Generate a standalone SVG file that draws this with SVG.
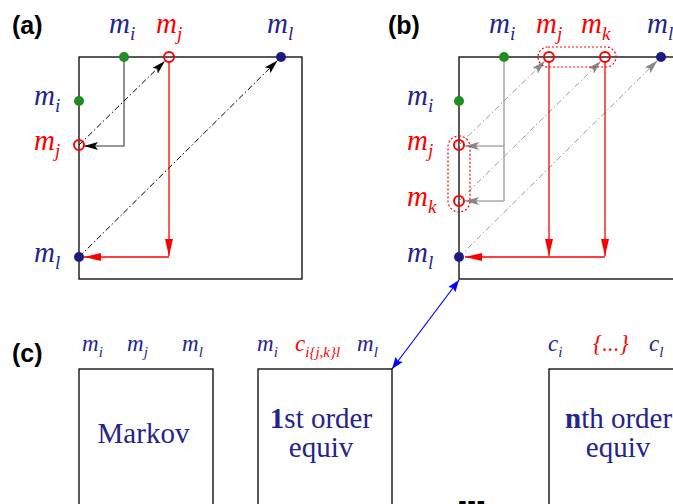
<svg xmlns="http://www.w3.org/2000/svg" width="673" height="504" viewBox="0 0 673 504">
<style>
.lbl{font-family:"Liberation Sans",Arial,sans-serif;font-weight:bold;font-size:25px;fill:#000}
.m{font-family:"Liberation Serif","Times New Roman",serif;font-style:italic;font-size:29px}
.ms{font-family:"Liberation Serif","Times New Roman",serif;font-style:italic;font-size:23px}
.blue{fill:#24248c}
.red{fill:#ff0000}
.box{fill:#fff;stroke:#000;stroke-width:1.3}
.big{font-family:"Liberation Serif","Times New Roman",serif;font-size:29px;fill:#24248c}
.gdot{fill:#228b22}
.bdot{fill:#1c1c80}
.rc{fill:none;stroke:#ff0000;stroke-width:2}
.dd{fill:none;stroke:#000;stroke-width:1;stroke-dasharray:6 2.5 1.5 2.5}
.gd{fill:none;stroke:#999;stroke-width:1;stroke-dasharray:6 2.5 1.5 2.5}
.rl{fill:none;stroke:#ff0000;stroke-width:1.3}
.gl{fill:none;stroke:#777;stroke-width:1.6}
.gl2{fill:none;stroke:#aaa;stroke-width:1.6}
.rdot{fill:none;stroke:#ff0000;stroke-width:1.2;stroke-dasharray:2 2}
</style>
<defs>
<marker id="aBlk" markerUnits="userSpaceOnUse" markerWidth="16" markerHeight="10" refX="14" refY="4" orient="auto"><path d="M0,0 L14,4 L0,8 L3,4 z" fill="#000"/></marker>
<marker id="aGry" markerUnits="userSpaceOnUse" markerWidth="16" markerHeight="10" refX="14" refY="4" orient="auto"><path d="M0,0 L14,4 L0,8 L3,4 z" fill="#888"/></marker>
<marker id="aRed" markerUnits="userSpaceOnUse" markerWidth="19" markerHeight="10" refX="17" refY="4" orient="auto"><path d="M0,0 L17,4 L0,8 z" fill="#ff0000"/></marker>
<marker id="aBlu" markerUnits="userSpaceOnUse" markerWidth="14" markerHeight="11" refX="12" refY="4.5" orient="auto"><path d="M0,0 L12,4.5 L0,9 L2,4.5 z" fill="#0000ff"/></marker>
<marker id="aBluS" markerUnits="userSpaceOnUse" markerWidth="14" markerHeight="11" refX="0" refY="4.5" orient="auto"><path d="M12,0 L0,4.5 L12,9 L10,4.5 z" fill="#0000ff"/></marker>
</defs>

<g id="panel-a">
<text class="lbl" x="12" y="34">(a)</text>
<rect class="box" x="79" y="57" width="223" height="222"/>
<text class="m blue" x="109" y="33">m<tspan font-size="19" dy="7">i</tspan></text>
<text class="m red" x="156" y="33">m<tspan font-size="19" dy="7">j</tspan></text>
<text class="m blue" x="267" y="33">m<tspan font-size="19" dy="7">l</tspan></text>
<text class="m blue" x="34" y="105">m<tspan font-size="19" dy="7">i</tspan></text>
<text class="m red" x="34" y="150">m<tspan font-size="19" dy="7">j</tspan></text>
<text class="m blue" x="34" y="262">m<tspan font-size="19" dy="7">l</tspan></text>
</g>

<g id="panel-b">
<text class="lbl" x="388" y="34">(b)</text>
<rect class="box" x="459" y="57" width="240" height="222"/>
<text class="m blue" x="489" y="33">m<tspan font-size="19" dy="7">i</tspan></text>
<text class="m red" x="536" y="33">m<tspan font-size="19" dy="7">j</tspan></text>
<text class="m red" x="581" y="33">m<tspan font-size="19" dy="7">k</tspan></text>
<text class="m blue" x="647" y="33">m<tspan font-size="19" dy="7">l</tspan></text>
<text class="m blue" x="407" y="105">m<tspan font-size="19" dy="7">i</tspan></text>
<text class="m red" x="407" y="150">m<tspan font-size="19" dy="7">j</tspan></text>
<text class="m red" x="407" y="206">m<tspan font-size="19" dy="7">k</tspan></text>
<text class="m blue" x="407" y="262">m<tspan font-size="19" dy="7">l</tspan></text>
</g>

<g id="connectors">
<polyline class="gl" points="124,57 124,146 84,146" marker-end="url(#aBlk)"/>
<line class="dd" x1="79" y1="145" x2="165" y2="61" marker-end="url(#aBlk)"/>
<line class="dd" x1="79" y1="257" x2="277.5" y2="60.5" marker-end="url(#aBlk)"/>
<line class="rl" x1="169" y1="62" x2="169" y2="256" marker-end="url(#aRed)"/>
<line class="rl" x1="169" y1="257" x2="84" y2="257" marker-end="url(#aRed)"/>
<line class="gl2" x1="504" y1="57" x2="504" y2="201"/>
<line class="gl2" x1="504" y1="146" x2="465" y2="146" marker-end="url(#aGry)"/>
<line class="gl2" x1="504" y1="201" x2="465" y2="201" marker-end="url(#aGry)"/>
<line class="gd" x1="459" y1="145" x2="545" y2="61" marker-end="url(#aGry)"/>
<line class="gd" x1="459" y1="201" x2="601" y2="61" marker-end="url(#aGry)"/>
<line class="gd" x1="459" y1="257" x2="657.5" y2="60.5" marker-end="url(#aGry)"/>
<line class="rl" x1="549" y1="62" x2="549" y2="256" marker-end="url(#aRed)"/>
<line class="rl" x1="605" y1="62" x2="605" y2="256" marker-end="url(#aRed)"/>
<line class="rl" x1="605" y1="257" x2="465" y2="257" marker-end="url(#aRed)"/>
<line x1="459" y1="280" x2="392" y2="369" stroke="#0000ff" stroke-width="1.2" marker-start="url(#aBluS)" marker-end="url(#aBlu)"/>
</g>

<g id="dots-a">
<circle class="gdot" cx="124" cy="57" r="5"/>
<circle class="rc" cx="169" cy="57" r="5"/>
<circle class="bdot" cx="281" cy="57" r="5"/>
<circle class="gdot" cx="79" cy="101" r="5"/>
<circle class="rc" cx="79" cy="145" r="5"/>
<circle class="bdot" cx="79" cy="257" r="5"/>
</g>

<g id="dots-b">
<rect class="rdot" x="538" y="47" width="78" height="20" rx="10"/>
<rect class="rdot" x="448" y="136" width="22" height="76" rx="11"/>
<circle class="gdot" cx="504" cy="57" r="5"/>
<circle class="rc" cx="549" cy="57" r="5"/>
<circle class="rc" cx="605" cy="57" r="5"/>
<circle class="bdot" cx="661" cy="57" r="5"/>
<circle class="gdot" cx="459" cy="101" r="5"/>
<circle class="rc" cx="459" cy="145" r="5"/>
<circle class="rc" cx="459" cy="201" r="5"/>
<circle class="bdot" cx="459" cy="257" r="5"/>
</g>

<text class="lbl" x="12" y="362">(c)</text>

<g id="markov">
<rect class="box" x="79" y="369" width="134" height="150"/>
<text class="ms blue" x="82" y="351">m<tspan font-size="15" dy="6">i</tspan></text>
<text class="ms blue" x="127" y="351">m<tspan font-size="15" dy="6">j</tspan></text>
<text class="ms blue" x="182" y="351">m<tspan font-size="15" dy="6">l</tspan></text>
<text class="big" x="143.5" y="443" text-anchor="middle">Markov</text>
</g>

<g id="first-order">
<rect class="box" x="258" y="369" width="134" height="150"/>
<text class="ms blue" x="257" y="351">m<tspan font-size="15" dy="6">i</tspan></text>
<text class="ms red" x="295" y="351">c<tspan font-size="15" dy="6">i{j,k}l</tspan></text>
<text class="ms blue" x="357" y="351">m<tspan font-size="15" dy="6">l</tspan></text>
<text class="big" x="321" y="428" text-anchor="middle"><tspan font-weight="bold">1</tspan>st order</text>
<text class="big" x="321" y="457" text-anchor="middle">equiv</text>
</g>

<g id="nth-order">
<rect class="box" x="549" y="369" width="150" height="150"/>
<text class="ms blue" x="548" y="351">c<tspan font-size="15" dy="6">i</tspan></text>
<text class="ms red" x="593" y="351" font-size="20">{...}</text>
<text class="ms blue" x="649" y="351">c<tspan font-size="15" dy="6">l</tspan></text>
<text class="big" x="565" y="428"><tspan font-weight="bold">n</tspan>th order</text>
<text class="big" x="618" y="457" text-anchor="middle">equiv</text>
</g>

<text x="456" y="508" font-family="Liberation Sans,Arial,sans-serif" font-weight="bold" font-size="46" letter-spacing="-3.5">...</text>
</svg>
